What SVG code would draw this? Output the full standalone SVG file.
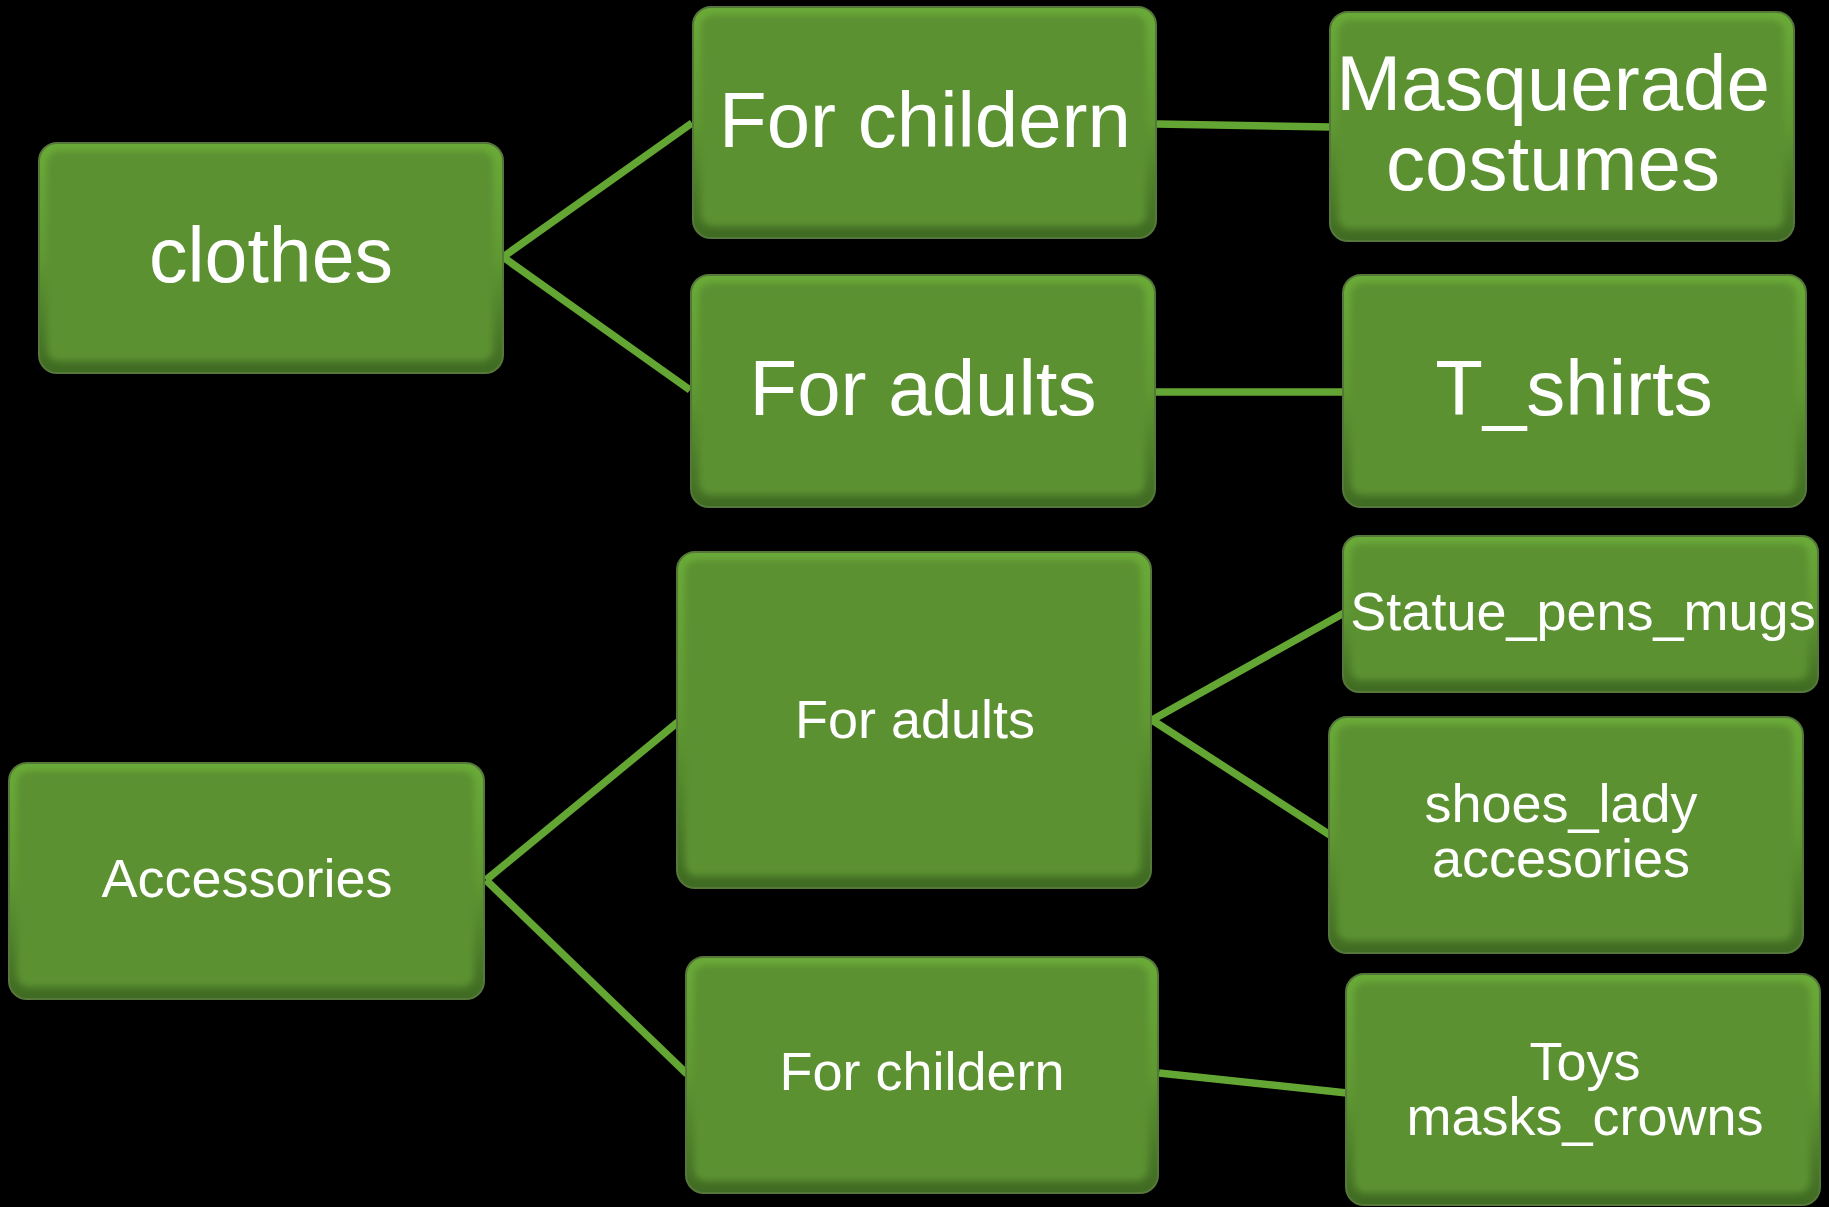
<svg xmlns="http://www.w3.org/2000/svg" width="1829" height="1207" viewBox="0 0 1829 1207">
<defs>
<linearGradient id="edge" x1="0" y1="0" x2="0" y2="1">
<stop offset="0" stop-color="#6aab38"/>
<stop offset="0.5" stop-color="#5f9832"/>
<stop offset="1" stop-color="#3f6a22"/>
</linearGradient>
<filter id="soft" x="-5%" y="-5%" width="110%" height="110%">
<feGaussianBlur stdDeviation="3"/>
</filter>
</defs>
<style>
.bg{fill:#000}
.outer{fill:url(#edge);stroke:#55773a;stroke-width:2}
.inner{fill:#5b9130;filter:url(#soft)}
.lbl{font-family:"Liberation Sans",Arial,sans-serif;fill:#fff;text-anchor:middle}
.big{font-size:78px}
.sm{font-size:54px}
.conn line{stroke:#64a633;stroke-width:7.5;stroke-linecap:butt}
</style>
<rect class="bg" x="0" y="0" width="1829" height="1207"/>
<g id="connectors" class="conn">
<line x1="503" y1="257" x2="692" y2="123"/>
<line x1="503" y1="257" x2="690" y2="390"/>
<line x1="1157" y1="124" x2="1331" y2="127"/>
<line x1="1156" y1="392" x2="1344" y2="392"/>
<line x1="486" y1="880" x2="678" y2="722"/>
<line x1="486" y1="880" x2="687" y2="1074"/>
<line x1="1152" y1="720" x2="1344" y2="613"/>
<line x1="1152" y1="720" x2="1330" y2="835"/>
<line x1="1159" y1="1073" x2="1347" y2="1093"/>
</g>
<g id="clothes">
<rect class="outer" x="39" y="143" width="464" height="230" rx="18"/>
<rect class="inner" x="47" y="151" width="446" height="210" rx="12"/>
<text class="lbl" x="271" y="282" font-size="77">clothes</text>
</g>
<g id="clothes-children">
<rect class="outer" x="693" y="7" width="463" height="231" rx="18"/>
<rect class="inner" x="701" y="15" width="445" height="211" rx="12"/>
<text class="lbl big" x="925" y="147">For childern</text>
</g>
<g id="masquerade">
<rect class="outer" x="1330" y="12" width="464" height="229" rx="18"/>
<rect class="inner" x="1338" y="20" width="446" height="209" rx="12"/>
<text class="lbl big" x="1553" y="110">Masquerade</text>
<text class="lbl big" x="1553" y="190">costumes</text>
</g>
<g id="clothes-adults">
<rect class="outer" x="691" y="275" width="464" height="232" rx="18"/>
<rect class="inner" x="699" y="283" width="446" height="212" rx="12"/>
<text class="lbl big" x="923" y="415">For adults</text>
</g>
<g id="tshirts">
<rect class="outer" x="1343" y="275" width="463" height="232" rx="18"/>
<rect class="inner" x="1351" y="283" width="445" height="212" rx="12"/>
<text class="lbl big" x="1574" y="415">T_shirts</text>
</g>
<g id="accessories">
<rect class="outer" x="9" y="763" width="475" height="236" rx="18"/>
<rect class="inner" x="17" y="771" width="457" height="216" rx="12"/>
<text class="lbl sm" x="247" y="897">Accessories</text>
</g>
<g id="acc-adults">
<rect class="outer" x="677" y="552" width="474" height="336" rx="18"/>
<rect class="inner" x="685" y="560" width="456" height="316" rx="12"/>
<text class="lbl sm" x="915" y="738">For adults</text>
</g>
<g id="statue">
<rect class="outer" x="1343" y="536" width="475" height="156" rx="16"/>
<rect class="inner" x="1351" y="544" width="457" height="136" rx="10"/>
<text class="lbl sm" x="1583" y="630">Statue_pens_mugs</text>
</g>
<g id="shoes">
<rect class="outer" x="1329" y="717" width="474" height="236" rx="18"/>
<rect class="inner" x="1337" y="725" width="456" height="216" rx="12"/>
<text class="lbl sm" x="1561" y="822">shoes_lady</text>
<text class="lbl sm" x="1561" y="877">accesories</text>
</g>
<g id="acc-children">
<rect class="outer" x="686" y="957" width="472" height="236" rx="18"/>
<rect class="inner" x="694" y="965" width="454" height="216" rx="12"/>
<text class="lbl sm" x="922" y="1090">For childern</text>
</g>
<g id="toys">
<rect class="outer" x="1346" y="974" width="474" height="231" rx="18"/>
<rect class="inner" x="1354" y="982" width="456" height="211" rx="12"/>
<text class="lbl sm" x="1585" y="1080">Toys</text>
<text class="lbl sm" x="1585" y="1135">masks_crowns</text>
</g>
</svg>
